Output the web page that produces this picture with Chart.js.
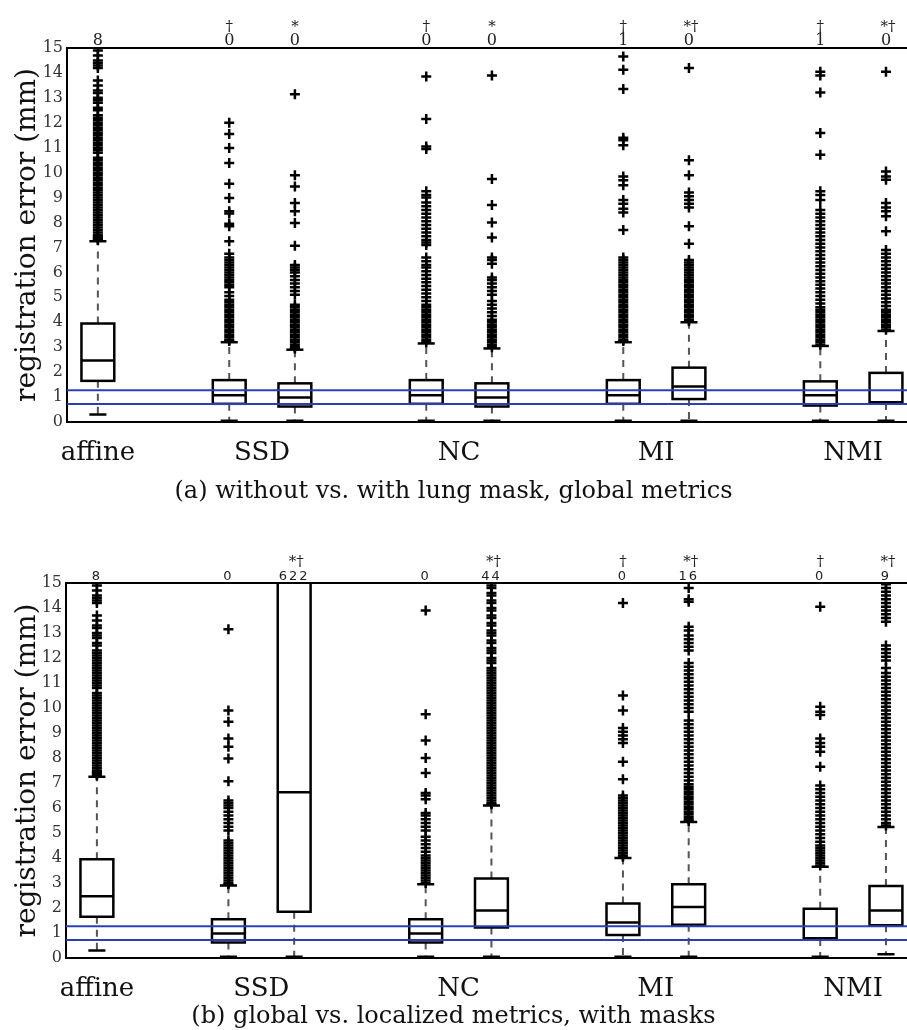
<!DOCTYPE html>
<html>
<head>
<meta charset="utf-8">
<script src="https://cdn.jsdelivr.net/npm/chart.js@4.4.1/dist/chart.umd.min.js"></script>
<style>
  body { margin: 0; background: #fff; }
  .panel { position: relative; width: 907px; height: 515px; }
</style>
</head>
<body>
<div class="panel"><canvas id="chartA" width="907" height="515"></canvas></div>
<div class="panel"><canvas id="chartB" width="907" height="515"></canvas></div>
<script>
// slot of each box along the x axis (empty slots separate the groups)
const boxSlots = [0, 2, 3, 5, 6, 8, 9, 11, 12];
const groupNames = ['affine', 'SSD', 'NC', 'MI', 'NMI'];
const groupTickPos = [0, 2.5, 5.5, 8.5, 11.5];
const refLines = [1.27, 0.72];

// (a) without vs. with lung mask, global metrics
const lowA  = [0.3, 0.05, 0.05, 0.05, 0.05, 0.05, 0.05, 0.05, 0.05];
const q1A   = [1.65, 0.73, 0.62, 0.73, 0.62, 0.73, 0.92, 0.66, 0.76];
const medA  = [2.47, 1.07, 0.98, 1.07, 0.98, 1.07, 1.42, 1.07, 0.79];
const q3A   = [3.95, 1.68, 1.55, 1.68, 1.55, 1.68, 2.18, 1.63, 1.97];
const highA = [7.25, 3.2, 2.9, 3.15, 2.95, 3.2, 4.0, 3.05, 3.65];
const countsA = ['8', '0', '0', '0', '0', '1', '0', '1', '0'];
const marksA  = ['', '†', '*', '†', '*', '†', '*†', '†', '*†'];

// (b) global vs. localized metrics, with masks
const lowB  = [0.3, 0.05, 0.05, 0.05, 0.05, 0.05, 0.05, 0.05, 0.15];
const q1B   = [1.65, 0.62, 1.85, 0.62, 1.22, 0.92, 1.33, 0.76, 1.31];
const medB  = [2.47, 0.98, 6.63, 0.98, 1.9, 1.42, 2.04, 0.79, 1.9];
const q3B   = [3.95, 1.55, 16, 1.55, 3.18, 2.18, 2.95, 1.97, 2.88];
const highB = [7.25, 2.9, 20, 2.95, 6.1, 4.0, 5.44, 3.65, 5.24];
const countsB = ['8', '0', '622', '0', '44', '0', '16', '0', '9'];
const marksB  = ['', '', '*†', '', '*†', '†', '*†', '†', '*†'];

// outliers per box
const affineOut = [7.3, 7.35, 7.4, 7.45, 7.5, 7.6, 7.7, 7.8, 7.9, 8.0, 8.1, 8.2, 8.3, 8.4, 8.5, 8.6, 8.7, 8.8, 8.9,
  9.0, 9.1, 9.2, 9.3, 9.4, 9.5, 9.6, 9.7, 9.8, 9.9, 10.0, 10.1, 10.2, 10.3, 10.4, 10.5, 10.6, 10.8, 10.9, 11.0,
  11.1, 11.2, 11.3, 11.4, 11.5, 11.6, 11.7, 11.8, 11.9, 12.0, 12.1, 12.2, 12.3, 12.5, 12.6, 12.8, 12.9, 13.0,
  13.2, 13.3, 13.5, 13.7, 14.2, 14.3, 14.4, 14.5, 14.7, 14.9];
const ssdGlobalOut = [12.0, 11.55, 10.99, 10.39, 9.56, 8.98, 8.45, 8.36, 7.95, 7.85, 7.25, 6.75, 6.6, 6.5, 6.4,
  6.3, 6.2, 6.1, 6.0, 5.9, 5.8, 5.7, 5.6, 5.5, 5.4, 5.2, 5.05, 4.9, 4.8, 4.7, 4.6, 4.5, 4.4, 4.3, 4.2, 4.1, 4.0,
  3.9, 3.8, 3.7, 3.6, 3.5, 3.4, 3.3, 3.25];
const ssdMaskOut = [13.15, 9.9, 9.45, 8.78, 8.45, 7.98, 7.07, 6.3, 6.2, 6.1, 6.0, 5.85, 5.7, 5.55, 5.4, 5.25,
  5.1, 4.7, 4.6, 4.5, 4.4, 4.3, 4.2, 4.1, 4.0, 3.9, 3.8, 3.7, 3.6, 3.5, 3.4, 3.3, 3.2, 3.1, 3.0, 2.95];
const ncGlobalOut = [13.86, 12.15, 11.05, 10.95, 9.25, 9.1, 9.0, 8.8, 8.65, 8.5, 8.35, 8.2, 8.05, 7.9, 7.75, 7.6,
  7.45, 7.3, 7.2, 7.1, 6.6, 6.45, 6.3, 6.2, 6.05, 5.9, 5.75, 5.6, 5.45, 5.3, 5.15, 5.0, 4.85, 4.7, 4.6, 4.5, 4.4,
  4.3, 4.2, 4.1, 4.0, 3.9, 3.8, 3.7, 3.6, 3.5, 3.4, 3.3, 3.2];
const ncMaskOut = [13.9, 9.75, 8.7, 8.0, 7.4, 6.6, 6.5, 6.35, 5.8, 5.7, 5.55, 5.4, 5.25, 5.1, 4.85, 4.7, 4.55,
  4.4, 4.25, 4.1, 4.0, 3.9, 3.8, 3.7, 3.6, 3.5, 3.4, 3.3, 3.2, 3.1, 3.0];
const miGlobalOut = [14.66, 14.13, 13.36, 11.4, 11.3, 11.1, 9.85, 9.7, 9.5, 8.9, 8.75, 8.55, 8.4, 7.7, 6.6, 6.5,
  6.4, 6.3, 6.2, 6.1, 6.0, 5.9, 5.8, 5.7, 5.6, 5.5, 5.4, 5.3, 5.2, 5.1, 5.0, 4.9, 4.8, 4.7, 4.6, 4.5, 4.4, 4.3,
  4.2, 4.1, 4.0, 3.9, 3.8, 3.7, 3.6, 3.5, 3.4, 3.3, 3.25];
const miMaskOut = [14.2, 10.5, 9.9, 9.2, 9.05, 8.9, 8.75, 8.6, 7.85, 7.15, 6.5, 6.4, 6.3, 6.2, 6.1, 6.0, 5.9,
  5.8, 5.7, 5.6, 5.5, 5.4, 5.3, 5.2, 5.1, 5.0, 4.9, 4.8, 4.7, 4.6, 4.5, 4.4, 4.3, 4.2, 4.1, 4.05];
const nmiGlobalOut = [14.05, 13.9, 13.22, 11.59, 10.72, 9.25, 9.1, 8.9, 8.5, 8.35, 8.2, 8.05, 7.9, 7.75, 7.6,
  7.45, 7.3, 7.15, 7.0, 6.85, 6.7, 6.55, 6.4, 6.25, 6.1, 5.95, 5.8, 5.65, 5.5, 5.35, 5.2, 5.05, 4.9, 4.75, 4.6,
  4.5, 4.4, 4.3, 4.2, 4.1, 4.0, 3.9, 3.8, 3.7, 3.6, 3.5, 3.4, 3.3, 3.2, 3.1];
const nmiMaskOut = [14.05, 10.05, 9.85, 9.72, 8.78, 8.6, 8.45, 8.25, 7.65, 6.9, 6.75, 6.6, 6.45, 6.3, 6.15, 6.0,
  5.85, 5.7, 5.55, 5.4, 5.25, 5.1, 4.95, 4.8, 4.65, 4.5, 4.4, 4.3, 4.2, 4.1, 4.0, 3.9, 3.8, 3.7];
const ssdLocalOut = [];
const ncLocalOut = [6.15, 6.2, 6.3, 6.4, 6.5, 6.6, 6.7, 6.8, 6.9, 7.0, 7.1, 7.2, 7.3, 7.4, 7.5, 7.6, 7.7, 7.8,
  7.9, 8.0, 8.1, 8.2, 8.3, 8.4, 8.5, 8.6, 8.7, 8.8, 8.9, 9.0, 9.1, 9.2, 9.3, 9.4, 9.5, 9.6, 9.7, 9.8, 9.9, 10.0,
  10.1, 10.2, 10.3, 10.4, 10.5, 10.6, 10.7, 10.8, 10.9, 11.0, 11.1, 11.2, 11.3, 11.4, 11.5, 11.6, 11.8, 11.9,
  12.0, 12.2, 12.3, 12.4, 12.6, 12.7, 12.9, 13.0, 13.1, 13.3, 13.4, 13.6, 13.7, 13.9, 14.0, 14.2, 14.3, 14.5,
  14.6, 14.8, 14.9];
const miLocalOut = [14.8, 14.35, 14.25, 13.25, 13.1, 12.9, 12.75, 12.6, 12.45, 12.3, 11.8, 11.65, 11.5, 11.35,
  11.2, 11.05, 10.9, 10.75, 10.6, 10.45, 10.3, 10.15, 10.0, 9.85, 9.5, 9.35, 9.2, 9.05, 8.9, 8.75, 8.6, 8.45,
  8.3, 8.15, 8.0, 7.85, 7.7, 7.55, 7.4, 7.25, 7.1, 6.95, 6.85, 6.75, 6.65, 6.55, 6.45, 6.35, 6.25, 6.15, 6.05,
  5.95, 5.85, 5.75, 5.65, 5.55, 5.48];
const nmiLocalOut = [14.95, 14.8, 14.65, 14.5, 14.35, 14.2, 14.05, 13.9, 13.75, 13.6, 13.45, 12.5, 12.35, 12.2,
  12.05, 11.9, 11.6, 11.4, 11.25, 11.1, 10.95, 10.8, 10.65, 10.5, 10.35, 10.2, 10.05, 9.9, 9.75, 9.6, 9.45,
  9.3, 9.15, 9.0, 8.85, 8.7, 8.55, 8.4, 8.25, 8.1, 7.95, 7.8, 7.65, 7.5, 7.35, 7.2, 7.05, 6.9, 6.75, 6.6, 6.45,
  6.3, 6.15, 6.0, 5.85, 5.7, 5.55, 5.4, 5.3];

const outA = [affineOut, ssdGlobalOut, ssdMaskOut, ncGlobalOut, ncMaskOut, miGlobalOut, miMaskOut, nmiGlobalOut, nmiMaskOut];
const outB = [affineOut, ssdMaskOut, ssdLocalOut, ncMaskOut, ncLocalOut, miMaskOut, miLocalOut, nmiMaskOut, nmiLocalOut];

const SERIF = "'DejaVu Serif', serif";

function line(ctx, x1, y1, x2, y2) {
    ctx.beginPath();
    ctx.moveTo(x1, y1);
    ctx.lineTo(x2, y2);
    ctx.stroke();
}

// Box, whiskers and the two reference lines, drawn with the chart's scales
const boxPlugin = {
    id: 'boxes',
    beforeDatasetsDraw: function(chart, args, opts) {
        const ctx = chart.ctx;
        const a = chart.chartArea;
        const x = chart.scales.x, y = chart.scales.y;
        ctx.save();
        ctx.beginPath();
        ctx.rect(a.left, a.top, a.right - a.left, a.bottom - a.top);
        ctx.clip();
        boxSlots.forEach(function(s, i) {
            const cx = x.getPixelForValue(s);
            const half = x.getPixelForValue(s + 0.25) - cx;
            const cap = x.getPixelForValue(s + 0.13) - cx;
            const yLo = y.getPixelForValue(opts.low[i]);
            const yQ1 = y.getPixelForValue(opts.q1[i]);
            const yMed = y.getPixelForValue(opts.med[i]);
            const yQ3 = y.getPixelForValue(opts.q3[i]);
            const yHi = y.getPixelForValue(opts.high[i]);

            ctx.strokeStyle = '#555';
            ctx.lineWidth = 2;
            ctx.setLineDash([7, 6]);
            line(ctx, cx, yQ3, cx, yHi);
            line(ctx, cx, yQ1, cx, yLo);
            ctx.setLineDash([]);

            ctx.strokeStyle = '#000';
            ctx.lineWidth = 2.5;
            line(ctx, cx - cap, yHi, cx + cap, yHi);
            line(ctx, cx - cap, yLo, cx + cap, yLo);
            ctx.strokeRect(cx - half, yQ3, 2 * half, yQ1 - yQ3);
            line(ctx, cx - half, yMed, cx + half, yMed);
        });
        ctx.strokeStyle = '#2b3fb5';
        ctx.lineWidth = 2;
        refLines.forEach(function(v) {
            const yy = y.getPixelForValue(v);
            line(ctx, a.left, yy, a.right, yy);
        });
        ctx.restore();
    },
    afterDraw: function(chart, args, opts) {
        const ctx = chart.ctx;
        const a = chart.chartArea;
        const x = chart.scales.x;
        ctx.save();
        ctx.strokeStyle = '#000';
        ctx.lineWidth = 2;
        line(ctx, a.left - 1, a.top, a.right, a.top);

        ctx.fillStyle = '#222';
        ctx.textAlign = 'center';
        ctx.textBaseline = 'alphabetic';
        boxSlots.forEach(function(s, i) {
            const cx = x.getPixelForValue(s);
            ctx.font = opts.countFont;
            ctx.letterSpacing = opts.countSpacing;
            ctx.fillText(opts.counts[i], cx, a.top - 3);
            if (opts.marks[i]) {
                ctx.font = '15px ' + SERIF;
                ctx.letterSpacing = '0px';
                ctx.fillText(opts.marks[i], cx + (opts.marks[i].length > 1 ? 2 : 0), a.top - 17);
            }
        });
        ctx.restore();
    }
};

function createPanel(canvasId, stats, outliers, caption, layoutTop, axisWidth, xAxisHeight, capPad) {
    const canvas = document.getElementById(canvasId);
    if (!canvas) return null;
    const ctx = canvas.getContext('2d');

    const datasets = outliers.map(function(vals, i) {
        return {
            type: 'scatter',
            data: vals.map(function(v) { return { x: boxSlots[i], y: v }; }),
            pointStyle: 'cross',
            radius: 5,
            borderColor: '#000',
            backgroundColor: '#000',
            borderWidth: 2.5
        };
    });

    return new Chart(ctx, {
        type: 'scatter',
        data: { datasets: datasets },
        plugins: [boxPlugin],
        options: {
            responsive: false,
            animation: false,
            events: [],
            layout: { autoPadding: false, padding: { top: layoutTop, left: 0, right: 0, bottom: 0 } },
            plugins: {
                legend: { display: false },
                tooltip: { enabled: false },
                title: {
                    display: true,
                    position: 'bottom',
                    text: caption,
                    color: '#111',
                    font: { family: SERIF, size: 24, weight: 'normal', lineHeight: 1 },
                    padding: capPad
                },
                boxes: stats
            },
            scales: {
                x: {
                    type: 'linear',
                    min: -0.47,
                    max: 12.32,
                    bounds: 'data',
                    afterBuildTicks: function(scale) {
                        scale.ticks = groupTickPos.map(function(v) { return { value: v }; });
                    },
                    afterFit: function(scale) { scale.height = xAxisHeight; },
                    grid: { display: false, drawTicks: false },
                    border: { display: true, color: '#000', width: 2 },
                    ticks: {
                        autoSkip: false,
                        maxRotation: 0,
                        padding: 16,
                        color: '#111',
                        font: { family: SERIF, size: 26 },
                        callback: function(value, index) { return groupNames[index]; }
                    }
                },
                y: {
                    min: 0,
                    max: 15,
                    afterFit: function(scale) { scale.width = axisWidth; },
                    grid: { display: false, drawTicks: false },
                    border: { display: true, color: '#000', width: 2 },
                    ticks: {
                        stepSize: 1,
                        padding: 4,
                        color: '#333',
                        font: { family: SERIF, size: 16 }
                    },
                    title: {
                        display: true,
                        text: 'registration error (mm)',
                        color: '#111',
                        font: { family: SERIF, size: 28 },
                        padding: { top: 11, bottom: 0 }
                    }
                }
            }
        }
    });
}

createPanel('chartA', {
    low: lowA, q1: q1A, med: medA, q3: q3A, high: highA,
    counts: countsA, marks: marksA,
    countFont: '16px ' + SERIF, countSpacing: '0px'
}, outA, '(a) without vs. with lung mask, global metrics', 48, 67, 50, { top: 8, bottom: 11 });

createPanel('chartB', {
    low: lowB, q1: q1B, med: medB, q3: q3B, high: highB,
    counts: countsB, marks: marksB,
    countFont: '13px "DejaVu Sans", sans-serif', countSpacing: '2px'
}, outB, '(b) global vs. localized metrics, with masks', 68, 66, 46, { top: 1, bottom: 1 });
</script>
</body>
</html>
